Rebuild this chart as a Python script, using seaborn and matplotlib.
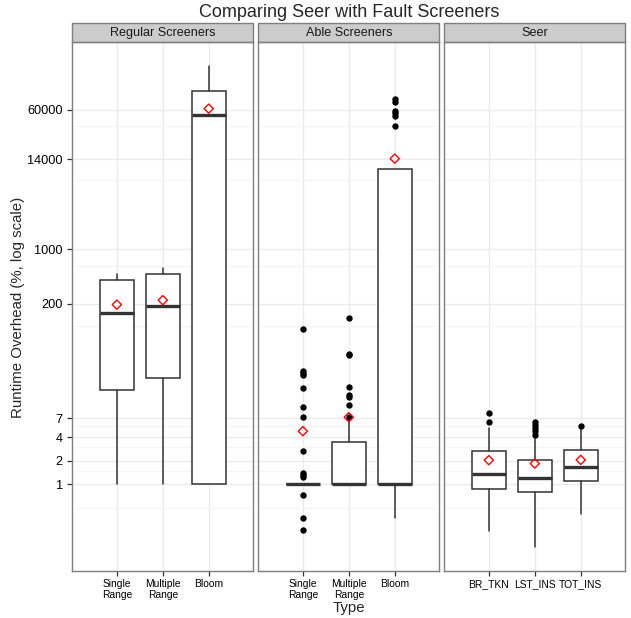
import numpy as np
import pandas as pd
import matplotlib
matplotlib.use("Agg")
import matplotlib.pyplot as plt
import seaborn as sns
from matplotlib.patches import Rectangle
from matplotlib.ticker import NullFormatter

# ---- data -------------------------------------------------------------
panels = ["Regular Screeners", "Able Screeners", "Seer"]
types = [
    ["Single\nRange", "Multiple\nRange", "Bloom"],
    ["Single\nRange", "Multiple\nRange", "Bloom"],
    ["BR_TKN", "LST_INS", "TOT_INS"],
]

# box statistics per panel (one entry per type)
whisker_lo = [[1, 1, 1], [1, 1, 0.376], [0.259, 0.160, 0.427]]
q1 = [[15.9, 23.0, 1], [1, 1, 1], [0.871, 0.798, 1.10]]
median = [[153, 187, 50600], [1, 1, 1], [1.36, 1.21, 1.68]]
q3 = [[409, 488, 102000], [1, 3.43, 10470], [2.68, 2.06, 2.79]]
whisker_hi = [[477, 581, 215000], [1, 7.0, 10470], [5.26, 3.85, 5.30]]
means = [[196, 223, 61600], [4.78, 7.2, 14200], [2.04, 1.85, 2.06]]

outliers = [
    [[], [], []],
    [
        [96, 27.8, 26.4, 24.5, 16.9, 9.7, 7.2, 2.66, 1.42, 1.34, 1.25, 0.73, 0.376, 0.264],
        [134, 46.7, 45.3, 17.4, 14.0, 13.1, 10.2, 7.3],
        [82200, 74100, 57800, 53700, 49200, 36700],
    ],
    [[8.17, 6.17], [6.35, 5.7, 5.25, 4.8, 4.3], [5.64]],
]

y_breaks = [1, 2, 4, 7, 200, 1000, 14000, 60000]
y_labels = ["1", "2", "4", "7", "200", "1000", "14000", "60000"]

title = "Comparing Seer with Fault Screeners"
x_title = "Type"
y_title = "Runtime Overhead (%, log scale)"

# ---- tidy frames for the point layers ------------------------------------
mean_rows, out_rows = [], []
for i, p in enumerate(panels):
    for j, t in enumerate(types[i]):
        mean_rows.append({"panel": p, "type": t, "pos": j, "value": means[i][j]})
        for v in outliers[i][j]:
            out_rows.append({"panel": p, "type": t, "pos": j, "value": v})
mean_df = pd.DataFrame(mean_rows)
out_df = pd.DataFrame(out_rows)

# ---- style --------------------------------------------------------------
sns.set_theme(style="white")
plt.rcParams["font.family"] = ["Liberation Sans", "DejaVu Sans"]

W, H = 631, 618
fig = plt.figure(figsize=(W / 100, H / 100), dpi=100)

panel_left = [72.3, 258.3, 444.3]
panel_w = 181.0
panel_top, panel_bot = 42.0, 571.0
strip_h = 18.6

# y range: data extent padded by 5% in log space
all_vals = np.concatenate([
    np.ravel(whisker_lo), np.ravel(whisker_hi),
    np.array(out_df["value"], dtype=float),
])
lo, hi = np.log10(all_vals.min()), np.log10(all_vals.max())
pad = (hi - lo) * 0.05
ylim = (10 ** (lo - pad), 10 ** (hi + pad))

# minor breaks halfway between consecutive major breaks
minor_breaks = [0.5] + [(a + b) / 2 for a, b in zip(y_breaks[:-1], y_breaks[1:])]

line_col = "#333333"
axes = []
for i, p in enumerate(panels):
    ax = fig.add_axes([
        panel_left[i] / W, (H - panel_bot) / H,
        panel_w / W, (panel_bot - panel_top) / H,
    ])
    axes.append(ax)
    ax.set_yscale("log")
    ax.set_axisbelow(True)

    stats = [
        dict(whislo=whisker_lo[i][j], q1=q1[i][j], med=median[i][j],
             q3=q3[i][j], whishi=whisker_hi[i][j], fliers=[], label=t)
        for j, t in enumerate(types[i])
    ]
    ax.bxp(
        stats, positions=range(len(stats)), widths=0.75, patch_artist=True,
        showcaps=False, showfliers=False,
        boxprops=dict(facecolor="white", edgecolor=line_col, linewidth=1.1),
        whiskerprops=dict(color=line_col, linewidth=1.1),
        medianprops=dict(color=line_col, linewidth=2.4, solid_capstyle="butt"),
        manage_ticks=False,
    )

    sub_out = out_df[out_df["panel"] == p]
    if len(sub_out):
        sns.scatterplot(data=sub_out, x="pos", y="value", ax=ax, color="black",
                        s=21, linewidth=0, legend=False, zorder=3)
    sub_mean = mean_df[mean_df["panel"] == p]
    sns.scatterplot(data=sub_mean, x="pos", y="value", ax=ax, color="red",
                    marker="D", s=22, linewidth=1.0, legend=False, zorder=4)
    pts = ax.collections[-1]
    pts.set_facecolor("none")
    pts.set_edgecolor("red")

    ax.set_xlim(-0.97, 2.97)
    ax.set_ylim(*ylim)
    ax.set_xticks(range(3))
    ax.set_xticklabels(types[i], fontsize=7.4, linespacing=1.2)
    ax.set_yticks(y_breaks)
    ax.set_yticks(minor_breaks, minor=True)
    ax.yaxis.set_minor_formatter(NullFormatter())
    if i == 0:
        ax.set_yticklabels(y_labels, fontsize=9.2)
    else:
        ax.set_yticklabels([])
    ax.set_xlabel("")
    ax.set_ylabel("")

    ax.grid(True, which="major", color="#EBEBEB", linewidth=1.0)
    ax.yaxis.grid(True, which="minor", color="#F5F5F5", linewidth=1.0)
    ax.tick_params(axis="x", which="major", length=3.6, width=0.9,
                   color=line_col, labelcolor="black", pad=2.0, bottom=True)
    ax.tick_params(axis="y", which="major", length=3.6, width=0.9,
                   color=line_col, labelcolor="black", pad=3.2, left=(i == 0))
    ax.tick_params(axis="y", which="minor", length=0, left=False)
    if i != 0:
        ax.tick_params(axis="y", which="both", left=False, length=0)
    for sp in ax.spines.values():
        sp.set_color("#7F7F7F")
        sp.set_linewidth(1.0)

    # facet strip
    h = strip_h / (panel_bot - panel_top)
    ax.add_patch(Rectangle((0, 1), 1, h, transform=ax.transAxes, clip_on=False,
                           facecolor="#CCCCCC", edgecolor="#7F7F7F", linewidth=1.0))
    ax.text(0.5, 1 + h / 2, p, transform=ax.transAxes, ha="center", va="center",
            fontsize=9.1, color="#1A1A1A")

cx = (panel_left[0] + panel_left[-1] + panel_w) / 2 / W
fig.text(cx, 1 - 12.5 / H, title, ha="center", va="center", fontsize=13)
fig.text(cx, 1 - 608 / H, x_title, ha="center", va="center", fontsize=10.8)
fig.text(18.5 / W, 1 - 307 / H, y_title, ha="center", va="center",
         rotation=90, fontsize=10.8)

fig.savefig("out.png", dpi=100)
